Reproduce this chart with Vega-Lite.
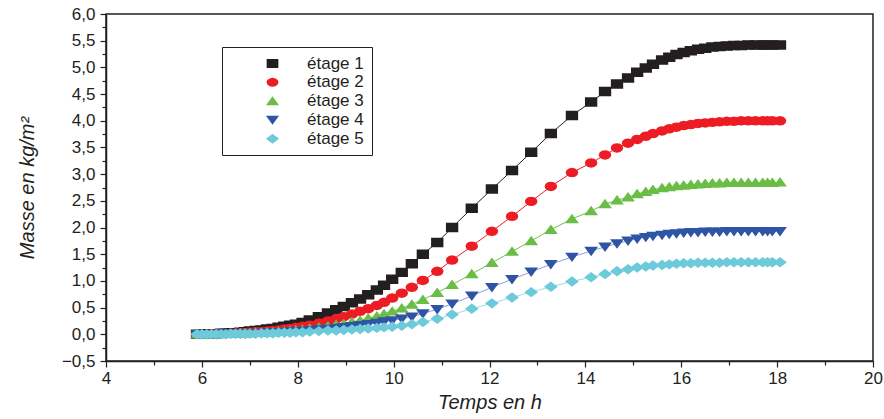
{
  "$schema": "https://vega.github.io/schema/vega-lite/v6.json",
  "width": 767,
  "height": 347,
  "autosize": {"type": "none"},
  "padding": {"left": 106, "top": 14, "right": 11, "bottom": 58},
  "background": "white",
  "config": {
    "view": {"stroke": "#231f20", "strokeWidth": 1.5},
    "axis": {"grid": false, "domainColor": "#231f20", "domainWidth": 1.5, "tickColor": "#231f20", "tickWidth": 1.2, "labelColor": "#231f20", "titleColor": "#231f20", "labelFont": "Liberation Sans", "titleFont": "Liberation Sans", "labelFontSize": 17, "titleFontSize": 20, "titleFontWeight": "normal", "titleFontStyle": "italic", "labelOverlap": false, "labelFlush": false}
  },
  "data": {"values": [
    {"t":5.9,"s":"étage 1","m":0},{"t":6.0,"s":"étage 1","m":0},{"t":6.1,"s":"étage 1","m":0.01},{"t":6.2,"s":"étage 1","m":0.01},{"t":6.3,"s":"étage 1","m":0.01},{"t":6.4,"s":"étage 1","m":0.02},{"t":6.5,"s":"étage 1","m":0.02},{"t":6.6,"s":"étage 1","m":0.03},{"t":6.7,"s":"étage 1","m":0.03},{"t":6.8,"s":"étage 1","m":0.04},{"t":6.9,"s":"étage 1","m":0.05},{"t":7.0,"s":"étage 1","m":0.06},{"t":7.12,"s":"étage 1","m":0.07},{"t":7.24,"s":"étage 1","m":0.08},{"t":7.36,"s":"étage 1","m":0.10},{"t":7.48,"s":"étage 1","m":0.11},{"t":7.6,"s":"étage 1","m":0.13},{"t":7.72,"s":"étage 1","m":0.15},{"t":7.84,"s":"étage 1","m":0.17},{"t":7.96,"s":"étage 1","m":0.19},{"t":8.1,"s":"étage 1","m":0.22},{"t":8.25,"s":"étage 1","m":0.27},{"t":8.44,"s":"étage 1","m":0.33},{"t":8.63,"s":"étage 1","m":0.40},{"t":8.8,"s":"étage 1","m":0.46},{"t":8.96,"s":"étage 1","m":0.52},{"t":9.13,"s":"étage 1","m":0.59},{"t":9.3,"s":"étage 1","m":0.66},{"t":9.47,"s":"étage 1","m":0.74},{"t":9.65,"s":"étage 1","m":0.83},{"t":9.8,"s":"étage 1","m":0.92},{"t":9.97,"s":"étage 1","m":1.03},{"t":10.17,"s":"étage 1","m":1.16},{"t":10.38,"s":"étage 1","m":1.32},{"t":10.61,"s":"étage 1","m":1.50},{"t":10.91,"s":"étage 1","m":1.72},{"t":11.22,"s":"étage 1","m":2.00},{"t":11.63,"s":"étage 1","m":2.36},{"t":12.05,"s":"étage 1","m":2.72},{"t":12.47,"s":"étage 1","m":3.07},{"t":12.87,"s":"étage 1","m":3.41},{"t":13.28,"s":"étage 1","m":3.76},{"t":13.72,"s":"étage 1","m":4.10},{"t":14.12,"s":"étage 1","m":4.35},{"t":14.41,"s":"étage 1","m":4.55},{"t":14.66,"s":"étage 1","m":4.69},{"t":14.89,"s":"étage 1","m":4.80},{"t":15.08,"s":"étage 1","m":4.91},{"t":15.26,"s":"étage 1","m":4.99},{"t":15.41,"s":"étage 1","m":5.06},{"t":15.6,"s":"étage 1","m":5.14},{"t":15.75,"s":"étage 1","m":5.19},{"t":15.9,"s":"étage 1","m":5.24},{"t":16.05,"s":"étage 1","m":5.28},{"t":16.2,"s":"étage 1","m":5.31},{"t":16.35,"s":"étage 1","m":5.34},{"t":16.5,"s":"étage 1","m":5.36},{"t":16.65,"s":"étage 1","m":5.38},{"t":16.8,"s":"étage 1","m":5.39},{"t":16.95,"s":"étage 1","m":5.40},{"t":17.1,"s":"étage 1","m":5.41},{"t":17.25,"s":"étage 1","m":5.41},{"t":17.4,"s":"étage 1","m":5.42},{"t":17.55,"s":"étage 1","m":5.42},{"t":17.7,"s":"étage 1","m":5.42},{"t":17.8,"s":"étage 1","m":5.42},{"t":17.9,"s":"étage 1","m":5.42},{"t":18.06,"s":"étage 1","m":5.42},
    {"t":5.9,"s":"étage 2","m":0},{"t":6.0,"s":"étage 2","m":0},{"t":6.1,"s":"étage 2","m":0},{"t":6.2,"s":"étage 2","m":0.01},{"t":6.3,"s":"étage 2","m":0.01},{"t":6.4,"s":"étage 2","m":0.01},{"t":6.5,"s":"étage 2","m":0.01},{"t":6.6,"s":"étage 2","m":0.02},{"t":6.7,"s":"étage 2","m":0.02},{"t":6.8,"s":"étage 2","m":0.03},{"t":6.9,"s":"étage 2","m":0.03},{"t":7.0,"s":"étage 2","m":0.04},{"t":7.12,"s":"étage 2","m":0.05},{"t":7.24,"s":"étage 2","m":0.05},{"t":7.36,"s":"étage 2","m":0.06},{"t":7.48,"s":"étage 2","m":0.07},{"t":7.6,"s":"étage 2","m":0.08},{"t":7.72,"s":"étage 2","m":0.10},{"t":7.84,"s":"étage 2","m":0.11},{"t":7.96,"s":"étage 2","m":0.13},{"t":8.1,"s":"étage 2","m":0.15},{"t":8.25,"s":"étage 2","m":0.17},{"t":8.44,"s":"étage 2","m":0.21},{"t":8.63,"s":"étage 2","m":0.25},{"t":8.8,"s":"étage 2","m":0.29},{"t":8.96,"s":"étage 2","m":0.33},{"t":9.13,"s":"étage 2","m":0.38},{"t":9.3,"s":"étage 2","m":0.43},{"t":9.47,"s":"étage 2","m":0.48},{"t":9.65,"s":"étage 2","m":0.54},{"t":9.8,"s":"étage 2","m":0.60},{"t":9.97,"s":"étage 2","m":0.68},{"t":10.17,"s":"étage 2","m":0.77},{"t":10.38,"s":"étage 2","m":0.88},{"t":10.61,"s":"étage 2","m":1.01},{"t":10.91,"s":"étage 2","m":1.18},{"t":11.22,"s":"étage 2","m":1.39},{"t":11.63,"s":"étage 2","m":1.65},{"t":12.05,"s":"étage 2","m":1.93},{"t":12.47,"s":"étage 2","m":2.21},{"t":12.87,"s":"étage 2","m":2.49},{"t":13.28,"s":"étage 2","m":2.77},{"t":13.72,"s":"étage 2","m":3.03},{"t":14.12,"s":"étage 2","m":3.21},{"t":14.41,"s":"étage 2","m":3.36},{"t":14.66,"s":"étage 2","m":3.49},{"t":14.89,"s":"étage 2","m":3.58},{"t":15.08,"s":"étage 2","m":3.65},{"t":15.26,"s":"étage 2","m":3.71},{"t":15.41,"s":"étage 2","m":3.76},{"t":15.6,"s":"étage 2","m":3.81},{"t":15.75,"s":"étage 2","m":3.85},{"t":15.9,"s":"étage 2","m":3.88},{"t":16.05,"s":"étage 2","m":3.91},{"t":16.2,"s":"étage 2","m":3.93},{"t":16.35,"s":"étage 2","m":3.95},{"t":16.5,"s":"étage 2","m":3.96},{"t":16.65,"s":"étage 2","m":3.97},{"t":16.8,"s":"étage 2","m":3.98},{"t":16.95,"s":"étage 2","m":3.99},{"t":17.1,"s":"étage 2","m":3.99},{"t":17.25,"s":"étage 2","m":4.00},{"t":17.4,"s":"étage 2","m":4.00},{"t":17.55,"s":"étage 2","m":4.00},{"t":17.7,"s":"étage 2","m":4.00},{"t":17.8,"s":"étage 2","m":4.00},{"t":17.9,"s":"étage 2","m":4.00},{"t":18.06,"s":"étage 2","m":4.00},
    {"t":5.9,"s":"étage 3","m":0},{"t":6.0,"s":"étage 3","m":0},{"t":6.1,"s":"étage 3","m":0},{"t":6.2,"s":"étage 3","m":0},{"t":6.3,"s":"étage 3","m":0.01},{"t":6.4,"s":"étage 3","m":0.01},{"t":6.5,"s":"étage 3","m":0.01},{"t":6.6,"s":"étage 3","m":0.01},{"t":6.7,"s":"étage 3","m":0.01},{"t":6.8,"s":"étage 3","m":0.02},{"t":6.9,"s":"étage 3","m":0.02},{"t":7.0,"s":"étage 3","m":0.02},{"t":7.12,"s":"étage 3","m":0.03},{"t":7.24,"s":"étage 3","m":0.03},{"t":7.36,"s":"étage 3","m":0.04},{"t":7.48,"s":"étage 3","m":0.04},{"t":7.6,"s":"étage 3","m":0.05},{"t":7.72,"s":"étage 3","m":0.06},{"t":7.84,"s":"étage 3","m":0.07},{"t":7.96,"s":"étage 3","m":0.08},{"t":8.1,"s":"étage 3","m":0.09},{"t":8.25,"s":"étage 3","m":0.11},{"t":8.44,"s":"étage 3","m":0.13},{"t":8.63,"s":"étage 3","m":0.15},{"t":8.8,"s":"étage 3","m":0.18},{"t":8.96,"s":"étage 3","m":0.20},{"t":9.13,"s":"étage 3","m":0.23},{"t":9.3,"s":"étage 3","m":0.26},{"t":9.47,"s":"étage 3","m":0.30},{"t":9.65,"s":"étage 3","m":0.34},{"t":9.8,"s":"étage 3","m":0.38},{"t":9.97,"s":"étage 3","m":0.43},{"t":10.17,"s":"étage 3","m":0.49},{"t":10.38,"s":"étage 3","m":0.56},{"t":10.61,"s":"étage 3","m":0.65},{"t":10.91,"s":"étage 3","m":0.78},{"t":11.22,"s":"étage 3","m":0.93},{"t":11.63,"s":"étage 3","m":1.13},{"t":12.05,"s":"étage 3","m":1.34},{"t":12.47,"s":"étage 3","m":1.55},{"t":12.87,"s":"étage 3","m":1.75},{"t":13.28,"s":"étage 3","m":1.96},{"t":13.72,"s":"étage 3","m":2.16},{"t":14.12,"s":"étage 3","m":2.31},{"t":14.41,"s":"étage 3","m":2.44},{"t":14.66,"s":"étage 3","m":2.51},{"t":14.89,"s":"étage 3","m":2.57},{"t":15.08,"s":"étage 3","m":2.63},{"t":15.26,"s":"étage 3","m":2.67},{"t":15.41,"s":"étage 3","m":2.71},{"t":15.6,"s":"étage 3","m":2.74},{"t":15.75,"s":"étage 3","m":2.76},{"t":15.9,"s":"étage 3","m":2.78},{"t":16.05,"s":"étage 3","m":2.79},{"t":16.2,"s":"étage 3","m":2.80},{"t":16.35,"s":"étage 3","m":2.81},{"t":16.5,"s":"étage 3","m":2.82},{"t":16.65,"s":"étage 3","m":2.83},{"t":16.8,"s":"étage 3","m":2.83},{"t":16.95,"s":"étage 3","m":2.84},{"t":17.1,"s":"étage 3","m":2.84},{"t":17.25,"s":"étage 3","m":2.84},{"t":17.4,"s":"étage 3","m":2.84},{"t":17.55,"s":"étage 3","m":2.84},{"t":17.7,"s":"étage 3","m":2.84},{"t":17.8,"s":"étage 3","m":2.84},{"t":17.9,"s":"étage 3","m":2.84},{"t":18.06,"s":"étage 3","m":2.85},
    {"t":5.9,"s":"étage 4","m":0},{"t":6.0,"s":"étage 4","m":0},{"t":6.1,"s":"étage 4","m":0},{"t":6.2,"s":"étage 4","m":0},{"t":6.3,"s":"étage 4","m":0},{"t":6.4,"s":"étage 4","m":0.01},{"t":6.5,"s":"étage 4","m":0.01},{"t":6.6,"s":"étage 4","m":0.01},{"t":6.7,"s":"étage 4","m":0.01},{"t":6.8,"s":"étage 4","m":0.01},{"t":6.9,"s":"étage 4","m":0.01},{"t":7.0,"s":"étage 4","m":0.02},{"t":7.12,"s":"étage 4","m":0.02},{"t":7.24,"s":"étage 4","m":0.02},{"t":7.36,"s":"étage 4","m":0.03},{"t":7.48,"s":"étage 4","m":0.03},{"t":7.6,"s":"étage 4","m":0.04},{"t":7.72,"s":"étage 4","m":0.04},{"t":7.84,"s":"étage 4","m":0.05},{"t":7.96,"s":"étage 4","m":0.05},{"t":8.1,"s":"étage 4","m":0.06},{"t":8.25,"s":"étage 4","m":0.07},{"t":8.44,"s":"étage 4","m":0.09},{"t":8.63,"s":"étage 4","m":0.10},{"t":8.8,"s":"étage 4","m":0.12},{"t":8.96,"s":"étage 4","m":0.13},{"t":9.13,"s":"étage 4","m":0.15},{"t":9.3,"s":"étage 4","m":0.17},{"t":9.47,"s":"étage 4","m":0.19},{"t":9.65,"s":"étage 4","m":0.21},{"t":9.8,"s":"étage 4","m":0.24},{"t":9.97,"s":"étage 4","m":0.26},{"t":10.17,"s":"étage 4","m":0.29},{"t":10.38,"s":"étage 4","m":0.33},{"t":10.61,"s":"étage 4","m":0.39},{"t":10.91,"s":"étage 4","m":0.47},{"t":11.22,"s":"étage 4","m":0.57},{"t":11.63,"s":"étage 4","m":0.72},{"t":12.05,"s":"étage 4","m":0.88},{"t":12.47,"s":"étage 4","m":1.03},{"t":12.87,"s":"étage 4","m":1.17},{"t":13.28,"s":"étage 4","m":1.31},{"t":13.72,"s":"étage 4","m":1.45},{"t":14.12,"s":"étage 4","m":1.56},{"t":14.41,"s":"étage 4","m":1.64},{"t":14.66,"s":"étage 4","m":1.70},{"t":14.89,"s":"étage 4","m":1.75},{"t":15.08,"s":"étage 4","m":1.79},{"t":15.26,"s":"étage 4","m":1.82},{"t":15.41,"s":"étage 4","m":1.84},{"t":15.6,"s":"étage 4","m":1.86},{"t":15.75,"s":"étage 4","m":1.88},{"t":15.9,"s":"étage 4","m":1.89},{"t":16.05,"s":"étage 4","m":1.90},{"t":16.2,"s":"étage 4","m":1.91},{"t":16.35,"s":"étage 4","m":1.91},{"t":16.5,"s":"étage 4","m":1.92},{"t":16.65,"s":"étage 4","m":1.92},{"t":16.8,"s":"étage 4","m":1.92},{"t":16.95,"s":"étage 4","m":1.93},{"t":17.1,"s":"étage 4","m":1.93},{"t":17.25,"s":"étage 4","m":1.93},{"t":17.4,"s":"étage 4","m":1.93},{"t":17.55,"s":"étage 4","m":1.93},{"t":17.7,"s":"étage 4","m":1.93},{"t":17.8,"s":"étage 4","m":1.93},{"t":17.9,"s":"étage 4","m":1.93},{"t":18.06,"s":"étage 4","m":1.93},
    {"t":5.9,"s":"étage 5","m":0},{"t":6.0,"s":"étage 5","m":0},{"t":6.1,"s":"étage 5","m":0},{"t":6.2,"s":"étage 5","m":0},{"t":6.3,"s":"étage 5","m":0},{"t":6.4,"s":"étage 5","m":0},{"t":6.5,"s":"étage 5","m":0},{"t":6.6,"s":"étage 5","m":0.01},{"t":6.7,"s":"étage 5","m":0.01},{"t":6.8,"s":"étage 5","m":0.01},{"t":6.9,"s":"étage 5","m":0.01},{"t":7.0,"s":"étage 5","m":0.01},{"t":7.12,"s":"étage 5","m":0.01},{"t":7.24,"s":"étage 5","m":0.02},{"t":7.36,"s":"étage 5","m":0.02},{"t":7.48,"s":"étage 5","m":0.02},{"t":7.6,"s":"étage 5","m":0.03},{"t":7.72,"s":"étage 5","m":0.03},{"t":7.84,"s":"étage 5","m":0.03},{"t":7.96,"s":"étage 5","m":0.04},{"t":8.1,"s":"étage 5","m":0.04},{"t":8.25,"s":"étage 5","m":0.05},{"t":8.44,"s":"étage 5","m":0.06},{"t":8.63,"s":"étage 5","m":0.07},{"t":8.8,"s":"étage 5","m":0.07},{"t":8.96,"s":"étage 5","m":0.08},{"t":9.13,"s":"étage 5","m":0.09},{"t":9.3,"s":"étage 5","m":0.10},{"t":9.47,"s":"étage 5","m":0.11},{"t":9.65,"s":"étage 5","m":0.12},{"t":9.8,"s":"étage 5","m":0.13},{"t":9.97,"s":"étage 5","m":0.14},{"t":10.17,"s":"étage 5","m":0.16},{"t":10.38,"s":"étage 5","m":0.19},{"t":10.61,"s":"étage 5","m":0.23},{"t":10.91,"s":"étage 5","m":0.29},{"t":11.22,"s":"étage 5","m":0.37},{"t":11.63,"s":"étage 5","m":0.48},{"t":12.05,"s":"étage 5","m":0.58},{"t":12.47,"s":"étage 5","m":0.69},{"t":12.87,"s":"étage 5","m":0.79},{"t":13.28,"s":"étage 5","m":0.89},{"t":13.72,"s":"étage 5","m":0.99},{"t":14.12,"s":"étage 5","m":1.07},{"t":14.41,"s":"étage 5","m":1.13},{"t":14.66,"s":"étage 5","m":1.18},{"t":14.89,"s":"étage 5","m":1.22},{"t":15.08,"s":"étage 5","m":1.25},{"t":15.26,"s":"étage 5","m":1.27},{"t":15.41,"s":"étage 5","m":1.29},{"t":15.6,"s":"étage 5","m":1.30},{"t":15.75,"s":"étage 5","m":1.31},{"t":15.9,"s":"étage 5","m":1.32},{"t":16.05,"s":"étage 5","m":1.33},{"t":16.2,"s":"étage 5","m":1.33},{"t":16.35,"s":"étage 5","m":1.34},{"t":16.5,"s":"étage 5","m":1.34},{"t":16.65,"s":"étage 5","m":1.34},{"t":16.8,"s":"étage 5","m":1.34},{"t":16.95,"s":"étage 5","m":1.35},{"t":17.1,"s":"étage 5","m":1.35},{"t":17.25,"s":"étage 5","m":1.35},{"t":17.4,"s":"étage 5","m":1.35},{"t":17.55,"s":"étage 5","m":1.35},{"t":17.7,"s":"étage 5","m":1.35},{"t":17.8,"s":"étage 5","m":1.35},{"t":17.9,"s":"étage 5","m":1.35},{"t":18.06,"s":"étage 5","m":1.35}
  ]},
  "encoding": {
    "x": {"field": "t", "type": "quantitative", "scale": {"domain": [4, 20], "nice": false, "zero": false},
      "axis": {"title": "Temps en h", "values": [4,5,6,7,8,9,10,11,12,13,14,15,16,17,18,19,20], "labelExpr": "datum.value % 2 === 0 ? datum.label : ''", "tickSize": {"condition": {"test": "datum.value % 2 === 0", "value": 6}, "value": 4}, "labelPadding": 3, "titlePadding": 6}},
    "y": {"field": "m", "type": "quantitative", "scale": {"domain": [-0.5, 6], "nice": false, "zero": false},
      "axis": {"title": "Masse en kg/m²", "values": [-0.5,-0.25,0,0.25,0.5,0.75,1,1.25,1.5,1.75,2,2.25,2.5,2.75,3,3.25,3.5,3.75,4,4.25,4.5,4.75,5,5.25,5.5,5.75,6], "labelExpr": "(datum.value * 4) % 2 === 0 ? replace(format(datum.value, '.1f'), '.', ',') : ''", "tickSize": {"condition": {"test": "(datum.value * 4) % 2 === 0", "value": 6}, "value": 4}, "labelPadding": 5, "titlePadding": 24}}
  },
  "layer": [
    {
      "mark": {"type": "line", "strokeWidth": 1},
      "encoding": {
        "stroke": {"field": "s", "type": "nominal", "scale": {"range": ["#231f20","#ed1c24","#6fc04a","#8aa2d4","#9fdbe8"]}, "legend": null}
      }
    },
    {
      "mark": {"type": "point", "filled": true, "opacity": 1, "size": 90},
      "encoding": {
        "strokeWidth": {"value": 0},
        "fill": {"field": "s", "type": "nominal", "scale": {"range": ["#231f20","#ed1c24","#6abd45","#2e54a4","#6dcadb"]},
          "legend": {"title": null, "orient": "none", "legendX": 116, "legendY": 33, "strokeColor": "#231f20", "fillColor": "white", "padding": 8, "symbolOffset": 34, "labelOffset": 26, "symbolStrokeWidth": 1, "symbolSize": 81, "rowPadding": 0.8, "labelFont": "Liberation Sans", "labelFontSize": 17, "labelColor": "#231f20", "encode": {"symbols": {"update": {"stroke": {"scale": "stroke", "field": "value"}, "strokeWidth": {"value": 1}}}}}},
        "stroke": {"field": "s", "type": "nominal",
          "legend": {"title": null, "orient": "none", "legendX": 116, "legendY": 33, "strokeColor": "#231f20", "fillColor": "white", "padding": 8, "symbolOffset": 34, "labelOffset": 26, "symbolStrokeWidth": 1, "symbolSize": 81, "rowPadding": 0.8, "labelFont": "Liberation Sans", "labelFontSize": 17, "labelColor": "#231f20", "encode": {"symbols": {"update": {"stroke": {"scale": "stroke", "field": "value"}, "strokeWidth": {"value": 1}}}}}},
        "shape": {"field": "s", "type": "nominal", "scale": {"range": [
          "M-6.7,0L6.7,0M-1.3,-1L1.3,-1L1.3,1L-1.3,1Z",
          "M-6.7,0L6.7,0M1.33,0L1.15,0.5L0.67,0.87L0,1L-0.67,0.87L-1.15,0.5L-1.33,0L-1.15,-0.5L-0.67,-0.87L0,-1L0.67,-0.87L1.15,-0.5Z",
          "M-6.7,0L6.7,0M0,-1.1L1.45,0.9L-1.45,0.9Z",
          "M-6.7,0L6.7,0M0,1.1L1.45,-0.9L-1.45,-0.9Z",
          "M-6.7,0L6.7,0M0,-1.1L1.45,0L0,1.1L-1.45,0Z"]},
          "legend": {"title": null, "orient": "none", "legendX": 116, "legendY": 33, "strokeColor": "#231f20", "fillColor": "white", "padding": 8, "symbolOffset": 34, "labelOffset": 26, "symbolStrokeWidth": 1, "symbolSize": 81, "rowPadding": 0.8, "labelFont": "Liberation Sans", "labelFontSize": 17, "labelColor": "#231f20", "encode": {"symbols": {"update": {"stroke": {"scale": "stroke", "field": "value"}, "strokeWidth": {"value": 1}}}}}}
      }
    }
  ]
}
